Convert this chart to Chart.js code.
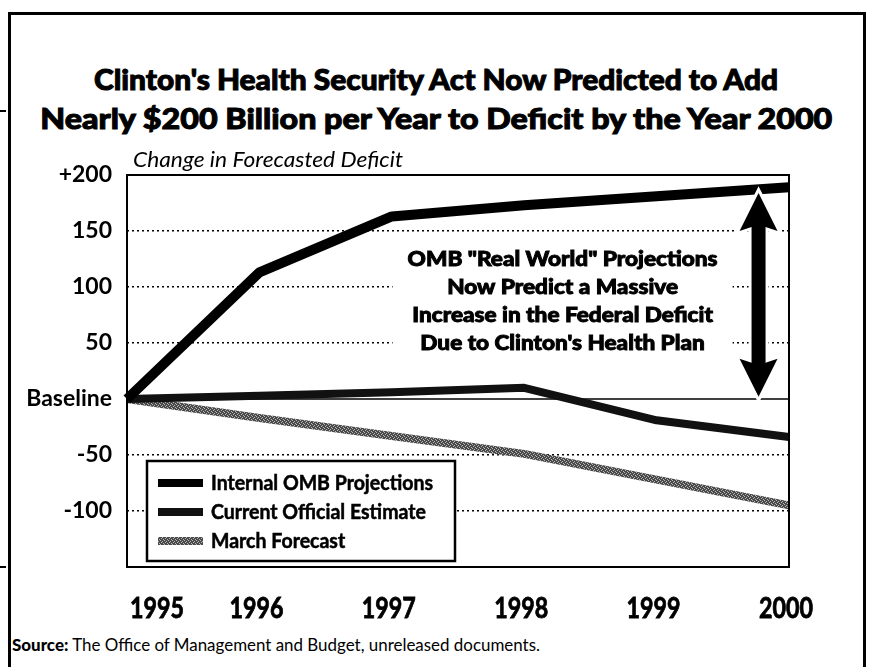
<!DOCTYPE html>
<html>
<head>
<meta charset="utf-8">
<script src="https://cdn.jsdelivr.net/npm/chart.js@4.4.1/dist/chart.umd.min.js"></script>
<style>
  html, body { margin: 0; padding: 0; background: #fff; }
  body { width: 873px; height: 667px; position: relative; overflow: hidden; font-family: Lato, "Open Sans", sans-serif; color: #000; }
  #frame { position: absolute; left: 8px; top: 12px; width: 858px; height: 720px; border: 3px solid #000; border-bottom: none; box-sizing: border-box; }
  .tick { position: absolute; left: 0; width: 6px; height: 2px; background: #000; }
  .title { position: absolute; left: 0; width: 873px; text-align: center; font-weight: 900; font-size: 29px; line-height: 34px; white-space: nowrap; -webkit-text-stroke: 1px #000; }
  .title span { display: inline-block; transform-origin: center center; }
  #source { position: absolute; left: 12px; top: 634px; font-size: 17px; line-height: 22px; white-space: nowrap; transform-origin: left center; }
  #source b { font-weight: 900; }
  #chart { position: absolute; left: 0; top: 0; }
</style>
</head>
<body>
<div id="frame"></div>
<div class="tick" style="top:110px"></div>
<div class="tick" style="top:566px"></div>
<div class="title" style="top:62px"><span data-w="684">Clinton's Health Security Act Now Predicted to Add</span></div>
<div class="title" style="top:101px"><span data-w="792">Nearly $200 Billion per Year to Deficit by the Year 2000</span></div>
<div id="source" data-w="528"><b>Source:</b> The Office of Management and Budget, unreleased documents.</div>
<canvas id="chart" width="873" height="667"></canvas>

<script>
'use strict';

// Data
const years = ['1995', '1996', '1997', '1998', '1999', '2000'];
const ombInternal = [0, 113, 163, 173, 181, 189];
const officialEstimate = [0, 3, 6, 10, -19, -34];
const marchForecast = [0, -17, -33, -49, -72, -95];
const seriesNames = ['Internal OMB Projections', 'Current Official Estimate', 'March Forecast'];
const yTicks = [200, 150, 100, 50, 0, -50, -100];
const yTickText = { 200: '+200', 0: 'Baseline' };
const yTitle = 'Change in Forecasted Deficit';
const noteLines = ['OMB "Real World" Projections', 'Now Predict a Massive', 'Increase in the Federal Deficit', "Due to Clinton's Health Plan"];
const noteValues = [125, 100, 75, 50];

// squeeze html text to the width it has in the picture
document.querySelectorAll('[data-w]').forEach(el => {
  const w = el.getBoundingClientRect().width;
  el.style.transform = 'scaleX(' + (Number(el.dataset.w) / w) + ')';
});

function stipple() {
  const c = document.createElement('canvas');
  c.width = 4; c.height = 4;
  const g = c.getContext('2d');
  g.fillStyle = '#4a4a4a'; g.fillRect(0, 0, 4, 4);
  g.fillStyle = '#b8b8b8';
  g.fillRect(0, 0, 1, 1); g.fillRect(2, 1, 1, 1); g.fillRect(1, 2, 1, 1); g.fillRect(3, 3, 1, 1);
  return g.createPattern(c, 'repeat');
}
const marchColor = stipple();

// draw text squeezed to a given width, optionally thickened
function squeezed(ctx, text, x, y, width, align, heavy) {
  const w = ctx.measureText(text).width;
  const sx = width ? width / w : 1;
  ctx.save();
  ctx.translate(x, y);
  ctx.scale(sx, 1);
  ctx.textAlign = align || 'left';
  ctx.fillText(text, 0, 0);
  if (heavy) {
    ctx.lineWidth = heavy;
    ctx.strokeStyle = ctx.fillStyle;
    ctx.strokeText(text, 0, 0);
  }
  ctx.restore();
}

const decor = {
  id: 'decor',
  beforeDatasetsDraw(chart) {
    const { ctx, chartArea: a, scales: { x, y } } = chart;
    ctx.save();
    // baseline
    ctx.strokeStyle = '#000';
    ctx.lineWidth = 1.5;
    ctx.beginPath();
    ctx.moveTo(a.left, y.getPixelForValue(0));
    ctx.lineTo(a.right, y.getPixelForValue(0));
    ctx.stroke();
    // blank out the grid behind the note
    ctx.fillStyle = '#fff';
    const cx = x.getPixelForValue(3.29);
    ctx.fillRect(cx - 170, y.getPixelForValue(138), 340, y.getPixelForValue(38) - y.getPixelForValue(138));
    ctx.restore();
  },
  afterDatasetsDraw(chart) {
    const { ctx, chartArea: a, scales: { x, y } } = chart;
    ctx.save();
    // plot frame
    ctx.strokeStyle = '#000';
    ctx.lineWidth = 2;
    ctx.strokeRect(a.left, a.top, a.right - a.left, a.bottom - a.top);

    // y title
    ctx.fillStyle = '#000';
    ctx.font = 'italic 21px Lato';
    ctx.textBaseline = 'alphabetic';
    squeezed(ctx, yTitle, a.left + 6, a.top - 8, 270);

    // note text
    ctx.font = '900 20px Lato';
    ctx.textBaseline = 'middle';
    const cx = x.getPixelForValue(3.29);
    const k = 310 / ctx.measureText(noteLines[0]).width;
    noteLines.forEach((t, i) => {
      const w = ctx.measureText(t).width * k;
      squeezed(ctx, t, cx, y.getPixelForValue(noteValues[i]) + 1, w, 'center', 0.9);
    });

    // double arrow
    const ax = x.getPixelForValue(4.77);
    const top = y.getPixelForValue(184), bot = y.getPixelForValue(2);
    const head = 38, hw = 19, sw = 7;
    ctx.beginPath();
    ctx.moveTo(ax, top);
    ctx.lineTo(ax + hw, top + head);
    ctx.lineTo(ax + sw, top + head - 4);
    ctx.lineTo(ax + sw, bot - head + 4);
    ctx.lineTo(ax + hw, bot - head);
    ctx.lineTo(ax, bot);
    ctx.lineTo(ax - hw, bot - head);
    ctx.lineTo(ax - sw, bot - head + 4);
    ctx.lineTo(ax - sw, top + head - 4);
    ctx.lineTo(ax - hw, top + head);
    ctx.closePath();
    ctx.strokeStyle = '#fff';
    ctx.lineWidth = 6;
    ctx.stroke();
    ctx.fillStyle = '#000';
    ctx.fill();

    // legend box
    const lx = a.left + 20, ly = a.bottom - 106, lw = 308, lh = 100;
    ctx.fillStyle = '#fff';
    ctx.fillRect(lx, ly, lw, lh);
    ctx.strokeStyle = '#000';
    ctx.lineWidth = 2.5;
    ctx.strokeRect(lx, ly, lw, lh);
    ctx.font = 'bold 20px Lato';
    const lk = 222 / ctx.measureText(chart.data.datasets[0].label).width;
    chart.data.datasets.forEach((ds, i) => {
      const ry = ly + 22 + i * 29;
      ctx.strokeStyle = ds.borderColor;
      ctx.lineWidth = 8;
      ctx.beginPath();
      ctx.moveTo(lx + 11, ry);
      ctx.lineTo(lx + 56, ry);
      ctx.stroke();
      ctx.fillStyle = '#000';
      squeezed(ctx, ds.label, lx + 64, ry + 1, ctx.measureText(ds.label).width * lk, 'left', 0.5);
    });

    // year labels under the axis
    ctx.font = 'bold 28px Lato';
    ctx.textBaseline = 'middle';
    years.forEach((t, i) => {
      const px = x.getPixelForValue(i);
      if (i === 0) squeezed(ctx, t, px + 3, a.bottom + 42, 54, 'left', 0.8);
      else squeezed(ctx, t, px - 3, a.bottom + 42, 54, 'center', 0.8);
    });
    ctx.restore();
  }
};

new Chart(document.getElementById('chart'), {
  type: 'line',
  data: {
    labels: years,
    datasets: [
      { label: seriesNames[0], data: ombInternal, borderColor: '#000', borderWidth: 10, order: 1 },
      { label: seriesNames[1], data: officialEstimate, borderColor: '#111', borderWidth: 8, order: 2 },
      { label: seriesNames[2], data: marchForecast, borderColor: marchColor, borderWidth: 8, order: 3 }
    ]
  },
  options: {
    responsive: false,
    animation: false,
    events: [],
    layout: { padding: { left: 0, top: 175, right: 84, bottom: 100 } },
    elements: {
      point: { radius: 0 },
      line: { tension: 0, borderJoinStyle: 'round', borderCapStyle: 'butt' }
    },
    plugins: { legend: { display: false }, tooltip: { enabled: false } },
    scales: {
      x: { type: 'category', display: false, offset: false },
      y: {
        min: -150,
        max: 200,
        afterBuildTicks: axis => { axis.ticks = yTicks.map(v => ({ value: v })); },
        afterFit: axis => { axis.width = 127; },
        border: { display: false, dash: [2, 3] },
        grid: {
          drawTicks: false,
          lineWidth: 1.5,
          borderDash: [2, 3],
          color: c => (c.tick && (c.tick.value === 200 || c.tick.value === 0)) ? 'rgba(0,0,0,0)' : '#000'
        },
        ticks: {
          padding: 15,
          color: '#000',
          font: { family: 'Lato', weight: 'bold', size: 23 },
          callback: v => yTickText[v] || String(v)
        }
      }
    }
  },
  plugins: [decor]
});
</script>
</body>
</html>
